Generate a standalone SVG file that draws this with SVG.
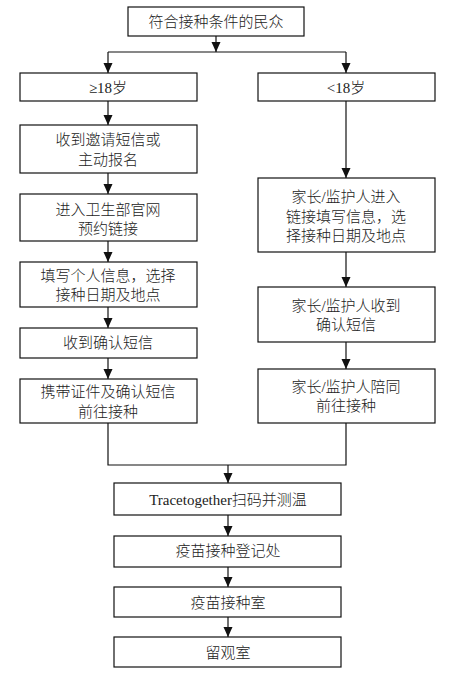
<svg xmlns="http://www.w3.org/2000/svg" width="458" height="674" viewBox="0 0 458 674">
<style>
.box{fill:#fff;stroke:#111;stroke-width:1.2}
.t{font-family:"Liberation Serif","Noto Sans CJK SC",serif;font-size:15px;font-weight:300;fill:#222;text-anchor:middle}
.c{fill:none;stroke:#111;stroke-width:1.2}
.a{marker-end:url(#ah)}
</style>
<defs>
<marker id="ah" markerUnits="userSpaceOnUse" markerWidth="10" markerHeight="10" refX="10" refY="4.5" orient="auto">
<path d="M0,0 L10,4.5 L0,9 z" fill="#111"/>
</marker>
</defs>
<rect width="458" height="674" fill="#fff"/>
<g id="connectors">
<path class="c a" d="M216,36 V52"/>
<path class="c" d="M108,52 H346"/>
<path class="c a" d="M108,52 V73"/>
<path class="c a" d="M346,52 V73"/>
<path class="c a" d="M108,101 V125"/>
<path class="c a" d="M108,173 V194"/>
<path class="c a" d="M108,241 V262"/>
<path class="c a" d="M108,307 V328"/>
<path class="c a" d="M108,358 V379"/>
<path class="c a" d="M346,101 V178"/>
<path class="c a" d="M346,252 V287"/>
<path class="c a" d="M346,342 V369"/>
<path class="c" d="M108,423 V465 H346 V423"/>
<path class="c a" d="M228,465 V483"/>
<path class="c a" d="M228,515 V536"/>
<path class="c a" d="M228,567 V587"/>
<path class="c a" d="M228,617 V637"/>
</g>
<g id="n_start"><rect class="box" x="128" y="7" width="176" height="29"/><text class="t" x="216" y="27">符合接种条件的民众</text></g>
<g id="n_adult"><rect class="box" x="20" y="73" width="177" height="28"/><text class="t" x="108" y="92.5">≥18岁</text></g>
<g id="n_minor"><rect class="box" x="258" y="73" width="177" height="28"/><text class="t" x="346" y="92.5">&lt;18岁</text></g>
<g id="n_l1"><rect class="box" x="20" y="125" width="177" height="48"/><text class="t" x="108" y="144.5">收到邀请短信或</text><text class="t" x="108" y="164.5">主动报名</text></g>
<g id="n_l2"><rect class="box" x="20" y="194" width="177" height="47"/><text class="t" x="108" y="214.5">进入卫生部官网</text><text class="t" x="108" y="234">预约链接</text></g>
<g id="n_l3"><rect class="box" x="20" y="262" width="177" height="45"/><text class="t" x="108" y="281">填写个人信息，选择</text><text class="t" x="108" y="300">接种日期及地点</text></g>
<g id="n_l4"><rect class="box" x="20" y="328" width="177" height="30"/><text class="t" x="108" y="348">收到确认短信</text></g>
<g id="n_l5"><rect class="box" x="20" y="379" width="177" height="44"/><text class="t" x="108" y="396.5">携带证件及确认短信</text><text class="t" x="108" y="416.5">前往接种</text></g>
<g id="n_r1"><rect class="box" x="258" y="178" width="177" height="74"/><text class="t" x="346" y="201.5">家长/监护人进入</text><text class="t" x="346" y="221.5">链接填写信息，选</text><text class="t" x="346" y="240.5">择接种日期及地点</text></g>
<g id="n_r2"><rect class="box" x="258" y="287" width="177" height="55"/><text class="t" x="346" y="310.5">家长/监护人收到</text><text class="t" x="346" y="329.5">确认短信</text></g>
<g id="n_r3"><rect class="box" x="258" y="369" width="177" height="54"/><text class="t" x="346" y="391.5">家长/监护人陪同</text><text class="t" x="346" y="410.5">前往接种</text></g>
<g id="n_trace"><rect class="box" x="114" y="483" width="227" height="32"/><text class="t" x="228" y="505">Tracetogether扫码并测温</text></g>
<g id="n_reg"><rect class="box" x="114" y="536" width="227" height="31"/><text class="t" x="228" y="556">疫苗接种登记处</text></g>
<g id="n_room"><rect class="box" x="114" y="587" width="227" height="30"/><text class="t" x="228" y="607.5">疫苗接种室</text></g>
<g id="n_obs"><rect class="box" x="114" y="637" width="227" height="30"/><text class="t" x="228" y="657.5">留观室</text></g>
</svg>
